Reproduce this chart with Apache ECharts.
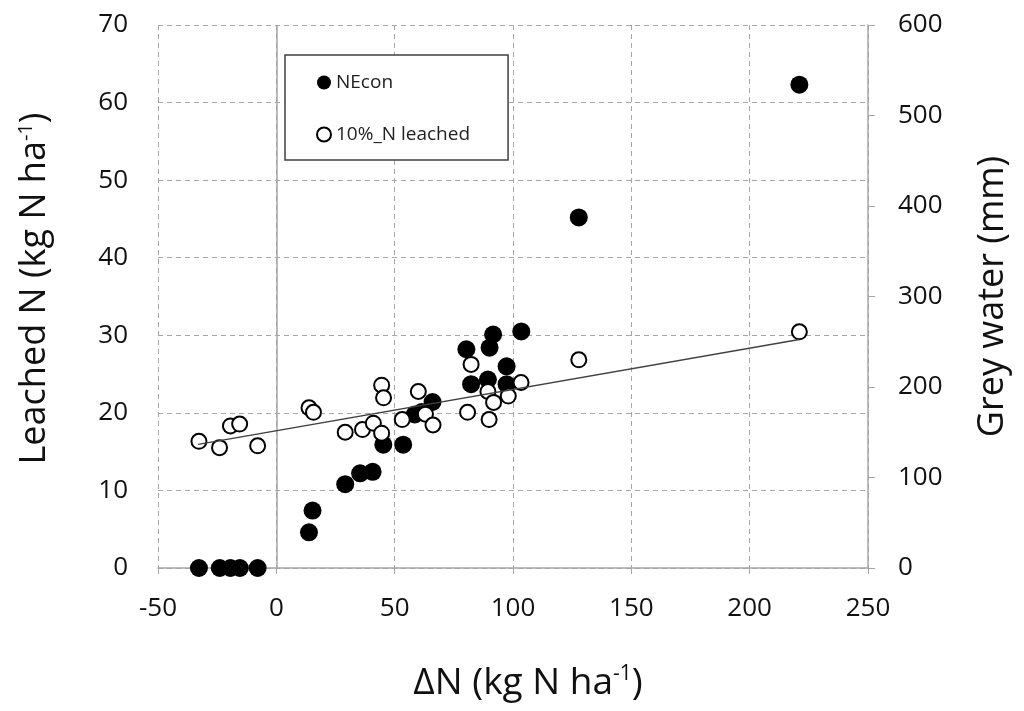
<!DOCTYPE html>
<html>
<head>
<meta charset="utf-8">
<script src="https://cdn.jsdelivr.net/npm/echarts@6/dist/echarts.min.js"></script>
<style>
html,body{margin:0;padding:0;background:#fff;}
#chart{width:1024px;height:711px;}
</style>
</head>
<body>
<div id="chart"></div>
<script>
// ΔN (kg N ha-1) and leached N (kg N ha-1) for NEcon
var necon_x = [-32.7, -23.9, -19.4, -15.4, -7.9, 13.8, 15.3, 29.1, 35.4, 40.7, 45.2, 53.6, 58.5, 61.4, 66.0, 80.3, 82.3, 89.4, 90.1, 91.6, 97.3, 97.3, 103.5, 127.8, 221.0];
var necon_y = [0, 0, 0, 0, 0, 4.6, 7.4, 10.8, 12.2, 12.4, 15.9, 15.9, 19.8, 20.1, 21.4, 28.2, 23.7, 24.3, 28.4, 30.1, 26.0, 23.7, 30.5, 45.2, 62.3];
// ΔN and grey water (mm) for 10%_N leached
var grey_x = [-32.7, -24.0, -19.4, -15.5, -7.9, 13.8, 15.7, 29.1, 36.4, 41.0, 44.5, 44.5, 45.3, 53.2, 60.0, 63.0, 66.2, 80.8, 82.3, 89.4, 89.9, 91.8, 98.0, 103.4, 127.8, 221.0];
var grey_y = [140, 133, 157, 159, 135, 177, 172, 150, 153, 160, 149, 202, 188, 164, 195, 170, 158, 172, 225, 195, 164, 183, 190, 205, 230, 261];
// linear trendline of grey water (endpoints)
var trend_x = [-33, 221];
var trend_y = [136.5, 252.5];
var xTicks = [-50, 0, 50, 100, 150, 200, 250];
var leftTicks = [0, 10, 20, 30, 40, 50, 60, 70];
var rightTicks = [0, 100, 200, 300, 400, 500, 600];

function zip(a, b){ return a.map(function(v, i){ return [v, b[i]]; }); }

var FONT = '"Open Sans", "Noto Sans", sans-serif';
var TXT = '#111';
var chart = echarts.init(document.getElementById('chart'));
chart.setOption({
  animation: false,
  backgroundColor: '#fff',
  textStyle: {fontFamily: FONT},
  grid: {left: 158, right: 156, top: 25, bottom: 143},
  legend: {
    left: 285, top: 55,
    orient: 'vertical',
    data: ['NEcon', '10%_N leached'],
    itemWidth: 14, itemHeight: 14, itemGap: 33,
    padding: [18, 38, 16, 31],
    borderColor: '#404040', borderWidth: 1.5,
    backgroundColor: '#fff',
    textStyle: {fontSize: 19, color: '#222', fontFamily: FONT}
  },
  xAxis: {
    type: 'value', min: xTicks[0], max: xTicks[xTicks.length - 1], interval: 50,
    name: 'ΔN (kg N ha{s|-1})', nameLocation: 'middle', nameGap: 96,
    nameTextStyle: {fontSize: 37, color: TXT, fontFamily: FONT, padding: [0, 0, 0, 30],
      rich: {s: {fontSize: 21, color: TXT, fontFamily: FONT, padding: [0, 0, 18, 0]}}},
    axisLine: {show: true, lineStyle: {color: '#a6a6a6', width: 1.5}},
    axisTick: {show: true, length: 6, lineStyle: {color: '#a6a6a6'}},
    axisLabel: {fontSize: 26, color: TXT, margin: 28, fontFamily: FONT},
    splitLine: {show: true, lineStyle: {color: '#a6a6a6', type: [5, 4], width: 1}}
  },
  yAxis: [{
    type: 'value', min: leftTicks[0], max: leftTicks[leftTicks.length - 1], interval: 10,
    position: 'left',
    name: 'Leached N (kg N ha{s|-1})', nameLocation: 'middle', nameGap: 105,
    nameTextStyle: {fontSize: 36, color: TXT, fontFamily: FONT, padding: [0, 0, 0, 16],
      rich: {s: {fontSize: 20, color: TXT, fontFamily: FONT, padding: [0, 0, 17, 0]}}},
    axisLine: {show: false},
    axisTick: {show: false},
    axisLabel: {fontSize: 26, color: TXT, margin: 30, fontFamily: FONT},
    splitLine: {show: true, lineStyle: {color: '#a6a6a6', type: [5, 4], width: 1}}
  }, {
    type: 'value', min: rightTicks[0], max: rightTicks[rightTicks.length - 1], interval: 100,
    position: 'right',
    name: 'Grey water (mm)', nameLocation: 'middle', nameGap: 107,
    nameTextStyle: {fontSize: 36, color: TXT, fontFamily: FONT},
    axisLine: {show: true, lineStyle: {color: '#a6a6a6', width: 1.5}},
    axisTick: {show: true, length: 7, lineStyle: {color: '#a6a6a6'}},
    axisLabel: {fontSize: 26, color: TXT, margin: 30, fontFamily: FONT},
    splitLine: {show: false}
  }],
  series: [{
    name: 'NEcon', type: 'scatter', yAxisIndex: 0, z: 3,
    symbol: 'circle', symbolSize: 18,
    itemStyle: {color: '#000', opacity: 1},
    data: zip(necon_x, necon_y),
    markLine: {
      silent: true, symbol: 'none', label: {show: false},
      lineStyle: {color: '#a6a6a6', type: 'solid', width: 1.5},
      data: [{xAxis: 0}]
    }
  }, {
    name: '10%_N leached', type: 'scatter', yAxisIndex: 1, z: 4,
    symbol: 'circle', symbolSize: 15,
    itemStyle: {color: '#fff', borderColor: '#000', borderWidth: 2, opacity: 1},
    data: zip(grey_x, grey_y)
  }, {
    name: 'trend', type: 'line', yAxisIndex: 1, z: 5,
    showSymbol: false, symbol: 'none', silent: true,
    lineStyle: {color: '#404040', width: 1.3},
    data: zip(trend_x, trend_y)
  }]
});
</script>
</body>
</html>
